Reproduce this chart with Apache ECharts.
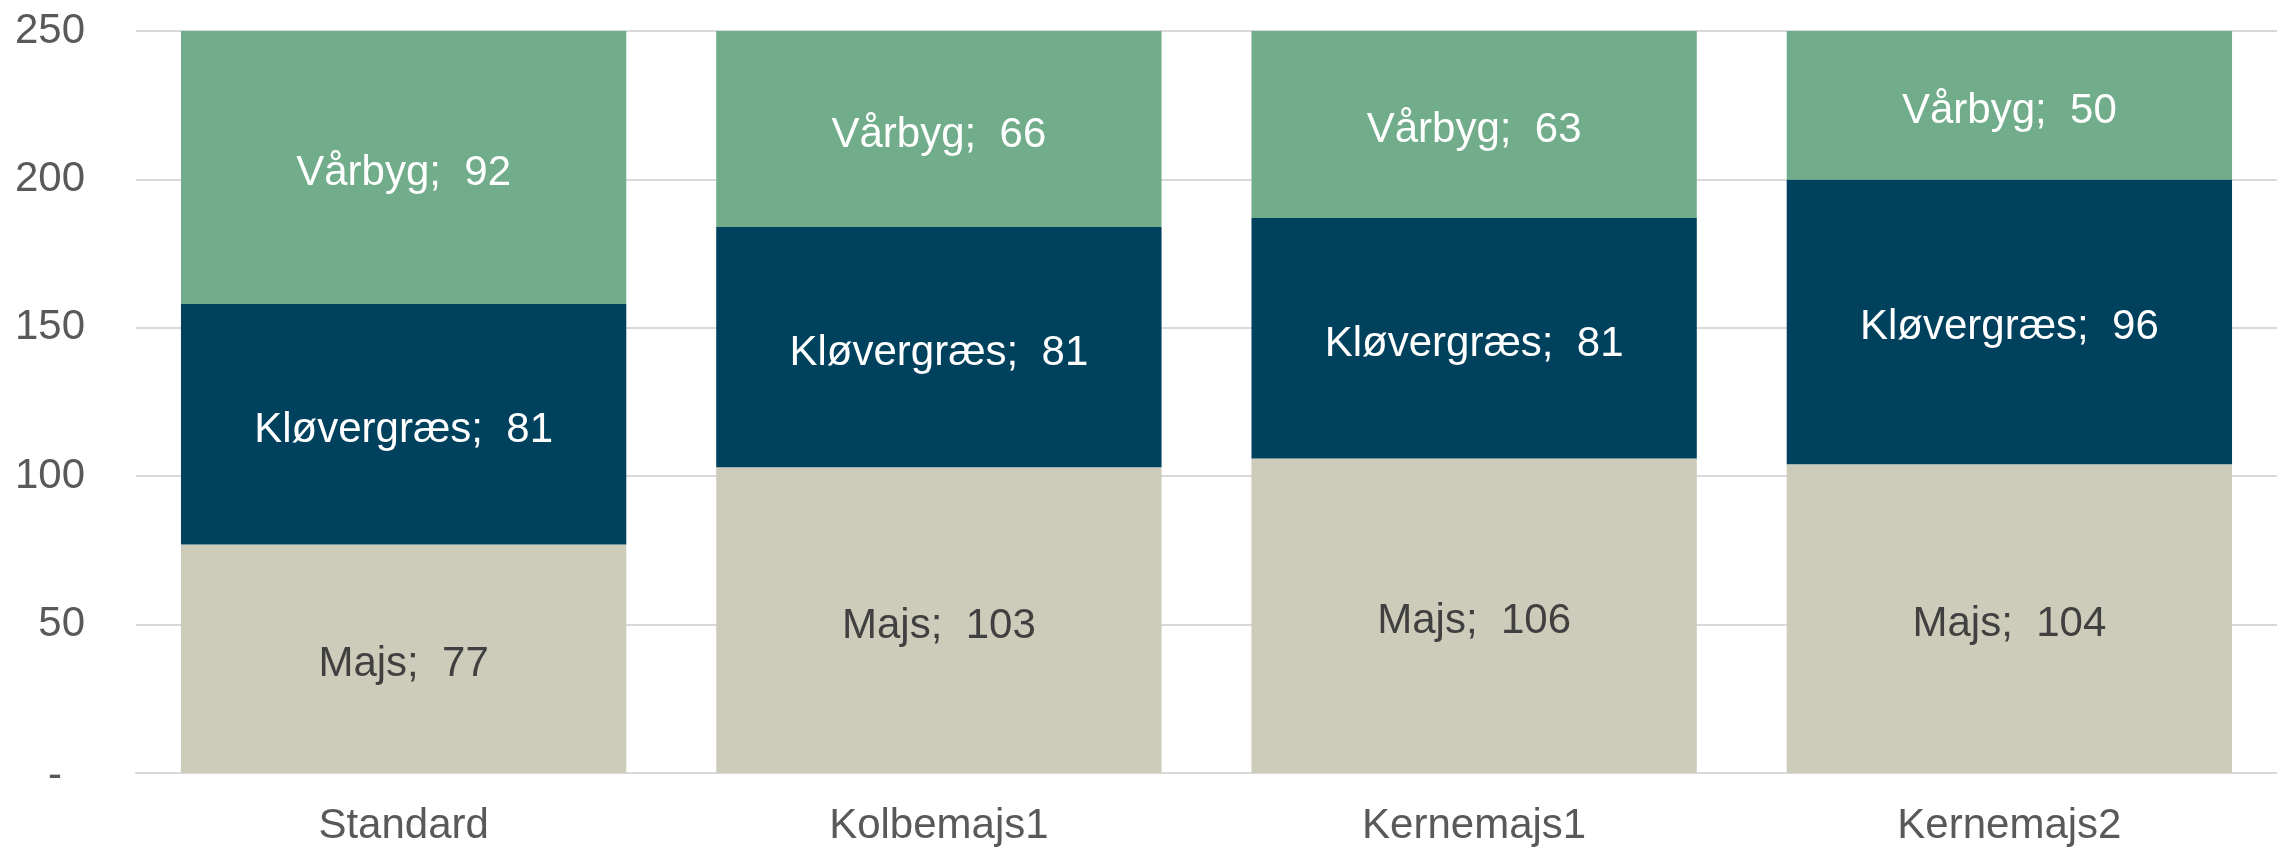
<!DOCTYPE html>
<html>
<head>
<meta charset="utf-8">
<script src="https://cdn.jsdelivr.net/npm/echarts@6/dist/echarts.min.js"></script>
<style>
html,body{margin:0;padding:0;background:#fff;}
#c{width:2277px;height:847px;}
</style>
</head>
<body>
<div id="c"></div>
<script>
const categories = ['Standard', 'Kolbemajs1', 'Kernemajs1', 'Kernemajs2'];
const seriesNames = ['Majs', 'Kløvergræs', 'Vårbyg'];
const majs = [77, 103, 106, 104];
const kloevergraes = [81, 81, 81, 96];
const vaarbyg = [92, 66, 63, 50];
const yTicks = [0, 50, 100, 150, 200, 250];

const FONT = '"Liberation Sans", Arial, sans-serif';
const colors = ['#CDCCBA', '#00425E', '#71AD8A'];
const labelColors = ['#404040', '#FFFFFF', '#FFFFFF'];
const values = [majs, kloevergraes, vaarbyg];

const chart = echarts.init(document.getElementById('c'), null, {renderer: 'canvas'});
chart.setOption({
  animation: false,
  backgroundColor: '#ffffff',
  grid: {left: 136, right: -13, top: 31, bottom: 73, containLabel: false},
  xAxis: {
    type: 'category',
    data: categories,
    axisLine: {show: true, lineStyle: {color: '#D9D9D9', width: 2}},
    axisTick: {show: false},
    axisLabel: {color: '#595959', fontSize: 42, fontFamily: FONT, margin: 32}
  },
  yAxis: {
    type: 'value',
    min: yTicks[0],
    max: yTicks[yTicks.length - 1],
    interval: 50,
    axisLine: {show: false},
    axisTick: {show: false},
    splitLine: {show: true, lineStyle: {color: '#D9D9D9', width: 2}},
    axisLabel: {
      color: '#595959', fontSize: 42, fontFamily: FONT, margin: 51,
      formatter: function (v) { return v === 0 ? '{d|-}' : String(v); },
      rich: {d: {color: '#595959', fontSize: 42, fontFamily: FONT, padding: [6, 23, 0, 0]}}
    }
  },
  series: seriesNames.map(function (name, i) {
    return {
      name: name,
      type: 'bar',
      stack: 'total',
      data: values[i],
      barCategoryGap: '16.8%',
      itemStyle: {color: colors[i]},
      label: {
        show: true,
        position: 'inside',
        offset: [0, 6],
        color: labelColors[i],
        fontSize: 42,
        fontFamily: FONT,
        formatter: function (p) { return p.seriesName + ';  ' + p.value; }
      }
    };
  })
});
</script>
</body>
</html>
